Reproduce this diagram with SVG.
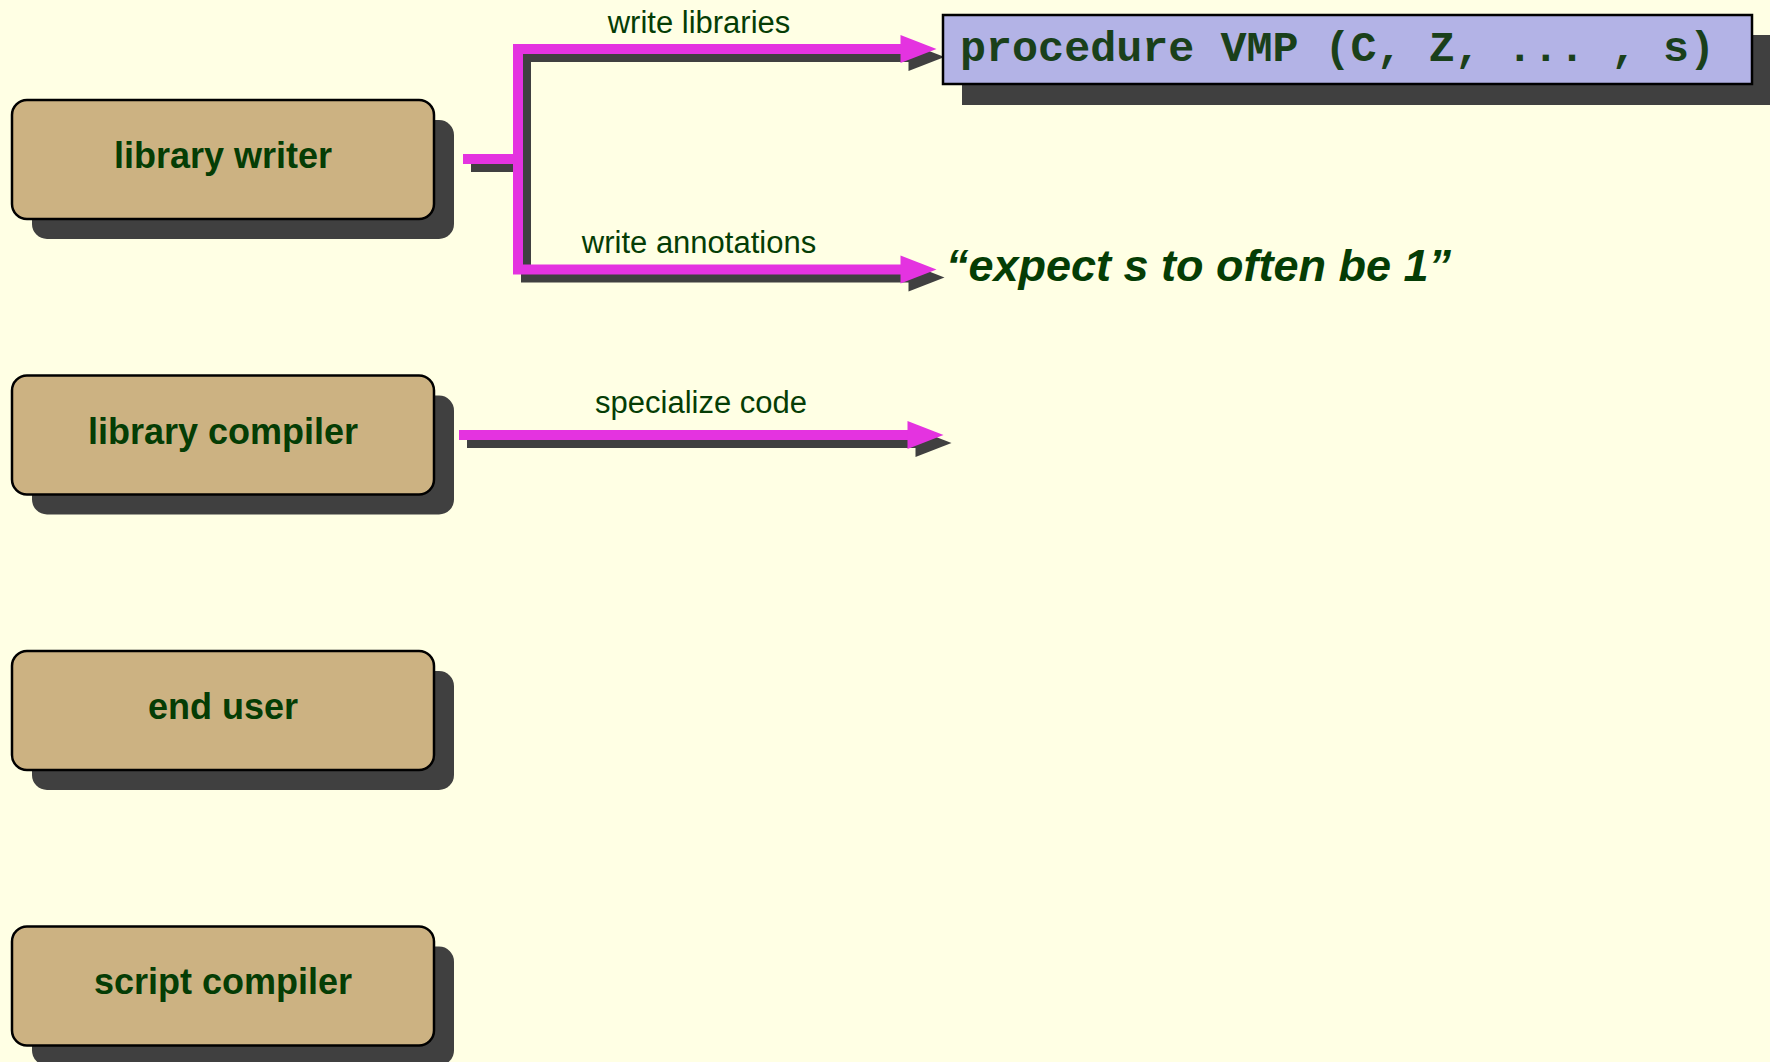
<svg xmlns="http://www.w3.org/2000/svg" xmlns:xlink="http://www.w3.org/1999/xlink" width="1770" height="1062" viewBox="0 0 1770 1062">
  <style>
    .bg { fill: #ffffe4; }
    .shadow { fill: #404040; }
    .node { fill: #ccb282; stroke: #000; stroke-width: 2.5; }
    .code { fill: #b3b3e6; stroke: #000; stroke-width: 2.5; }
    .node-text { font-family: "Liberation Sans", Arial, sans-serif; font-weight: bold; font-size: 36px; fill: #053d05; text-anchor: middle; }
    .label { font-family: "Liberation Sans", Arial, sans-serif; font-size: 31px; fill: #053d05; text-anchor: middle; }
    .code-text { font-family: "Liberation Mono", "Courier New", monospace; font-weight: bold; font-size: 43.4px; fill: #1a401a; }
    .quote { font-family: "Liberation Sans", Arial, sans-serif; font-weight: bold; font-style: italic; font-size: 45px; fill: #053d05; }
    .wire { fill: none; stroke-width: 10; stroke-linejoin: miter; stroke-linecap: butt; }
    .wire.pink { stroke: #e433e0; }
    .wire.dark { stroke: #404040; }
    .head.pink { fill: #e433e0; }
    .head.dark { fill: #404040; }
  </style>
  <defs>
    <path id="head" d="M0,-14 L36,0 L0,14 Z"/>
  </defs>

  <rect class="bg" x="0" y="0" width="1770" height="1062"/>

  <!-- connectors: dark drop shadow first, magenta on top -->
  <g id="connectors">
    <g id="connector-shadows" transform="translate(8,8)">
      <path class="wire dark" d="M902,49 H518 V269.5 H902"/>
      <path class="wire dark" d="M463,159 H518"/>
      <path class="wire dark" d="M459,435 H909"/>
      <use class="head dark" xlink:href="#head" href="#head" x="900.5" y="49"/>
      <use class="head dark" xlink:href="#head" href="#head" x="900.5" y="269.5"/>
      <use class="head dark" xlink:href="#head" href="#head" x="907.5" y="435"/>
    </g>
    <g id="connector-lines">
      <path class="wire pink" d="M902,49 H518 V269.5 H902"/>
      <path class="wire pink" d="M463,159 H518"/>
      <path class="wire pink" d="M459,435 H909"/>
      <use class="head pink" xlink:href="#head" href="#head" x="900.5" y="49"/>
      <use class="head pink" xlink:href="#head" href="#head" x="900.5" y="269.5"/>
      <use class="head pink" xlink:href="#head" href="#head" x="907.5" y="435"/>
    </g>
    <text class="label" x="699" y="32.5">write libraries</text>
    <text class="label" x="699" y="253">write annotations</text>
    <text class="label" x="701" y="412.5">specialize code</text>
  </g>

  <g id="library-writer">
    <rect class="shadow" x="32" y="120" width="422" height="119" rx="15"/>
    <rect class="node" x="12" y="100" width="422" height="119" rx="15"/>
    <text class="node-text" x="223" y="168">library writer</text>
  </g>

  <g id="library-compiler">
    <rect class="shadow" x="32" y="395.5" width="422" height="119" rx="15"/>
    <rect class="node" x="12" y="375.5" width="422" height="119" rx="15"/>
    <text class="node-text" x="223" y="443.5">library compiler</text>
  </g>

  <g id="end-user">
    <rect class="shadow" x="32" y="671" width="422" height="119" rx="15"/>
    <rect class="node" x="12" y="651" width="422" height="119" rx="15"/>
    <text class="node-text" x="223" y="719">end user</text>
  </g>

  <g id="script-compiler">
    <rect class="shadow" x="32" y="946.5" width="422" height="119" rx="15"/>
    <rect class="node" x="12" y="926.5" width="422" height="119" rx="15"/>
    <text class="node-text" x="223" y="994">script compiler</text>
  </g>

  <g id="procedure-vmp">
    <rect class="shadow" x="962" y="35" width="820" height="70"/>
    <rect class="code" x="943" y="15" width="809" height="69"/>
    <text class="code-text" x="960" y="61">procedure VMP (C, Z, ... , s)</text>
  </g>

  <g id="annotation">
    <text class="quote" x="946" y="281">“expect s to often be 1”</text>
  </g>
</svg>
